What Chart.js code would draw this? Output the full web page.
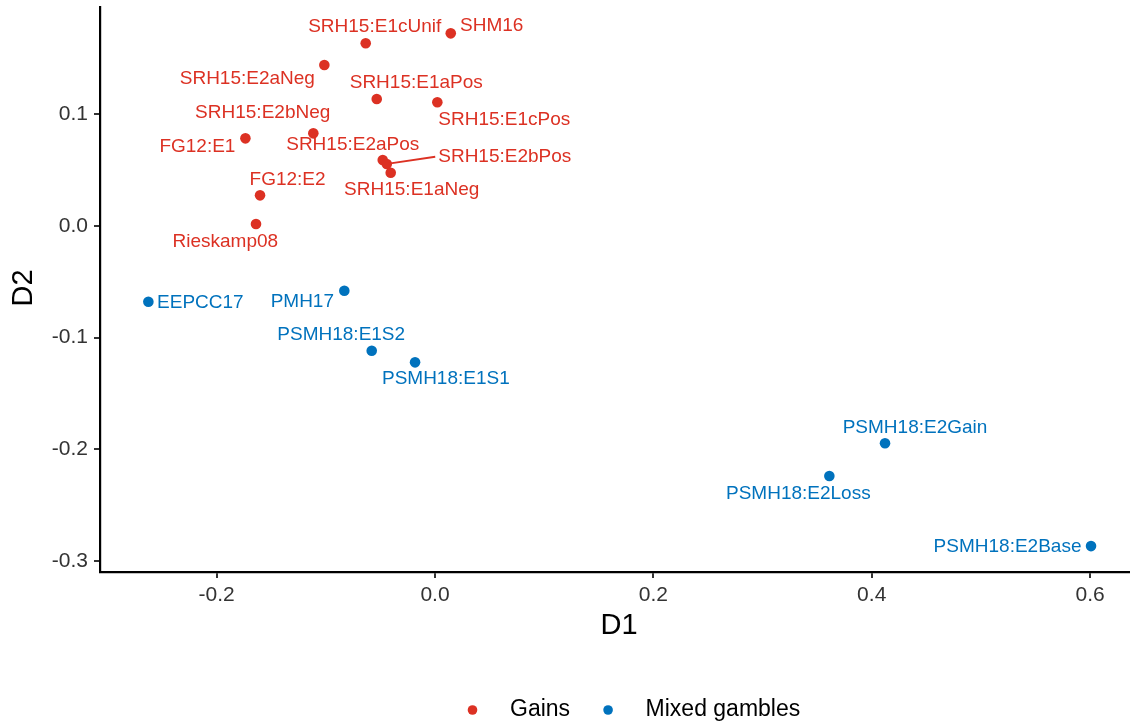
<!DOCTYPE html>
<html>
<head>
<meta charset="utf-8">
<script src="https://cdn.jsdelivr.net/npm/chart.js@4"></script>
<style>
  html, body { margin: 0; padding: 0; background: #fff; }
  #wrap { width: 1130px; height: 723px; }
</style>
</head>
<body>
<div id="wrap"><canvas id="c" width="1130" height="723"></canvas></div>
<script>
// Study coordinates on the two scaling dimensions (D1, D2)
const gainNames = ['SRH15:E1cUnif', 'SHM16', 'SRH15:E2aNeg', 'SRH15:E1aPos', 'SRH15:E1cPos',
  'SRH15:E2bNeg', 'FG12:E1', 'SRH15:E2aPos', 'SRH15:E2bPos', 'SRH15:E1aNeg', 'FG12:E2', 'Rieskamp08'];
const gainD1 = [-0.0635, 0.0144, -0.1014, -0.0534, 0.0021, -0.1115, -0.1737, -0.0479, -0.0442, -0.0406, -0.1603, -0.1640];
const gainD2 = [0.1634, 0.1723, 0.1440, 0.1135, 0.1106, 0.0828, 0.0783, 0.0589, 0.0553, 0.0475, 0.0273, 0.0016];

const mixedNames = ['EEPCC17', 'PMH17', 'PSMH18:E1S2', 'PSMH18:E1S1', 'PSMH18:E2Gain', 'PSMH18:E2Loss', 'PSMH18:E2Base'];
const mixedD1 = [-0.2626, -0.0831, -0.0580, -0.0183, 0.4122, 0.3612, 0.6009];
const mixedD2 = [-0.0680, -0.0581, -0.1118, -0.1222, -0.1947, -0.2240, -0.2867];

const seriesNames = ['Gains', 'Mixed gambles'];
const xTicks = [-0.2, 0.0, 0.2, 0.4, 0.6];
const yTicks = [-0.3, -0.2, -0.1, 0.0, 0.1];

// Label placement (pixel offsets from each point, repelled layout); third flag = draw leader line
const gainLabelOffsets = [[9, -17], [41, -8], [-77, 14], [39.5, -16.7], [67, 17], [-50.6, -20.6],
  [-48, 8.3], [-30, -15], [118, -7.3, true], [21, 17.3], [27.5, -15.3], [-30.7, 17.7]];
const mixedLabelOffsets = [[52, 0.6], [-42, 11], [-30.5, -15.7], [30.8, 16], [30, -16], [-31, 18], [-83.5, 0.7]];

const RED = '#DC3123';
const BLUE = '#0072BD';
const FONT = '"Liberation Sans", Arial, sans-serif';

const toPoints = (xs, ys) => xs.map((x, i) => ({ x: x, y: ys[i] }));

const pointLabels = {
  id: 'pointLabels',
  afterDatasetsDraw(chart) {
    const ctx = chart.ctx;
    const sets = [
      { names: gainNames, offs: gainLabelOffsets, color: RED, meta: chart.getDatasetMeta(0) },
      { names: mixedNames, offs: mixedLabelOffsets, color: BLUE, meta: chart.getDatasetMeta(1) }
    ];
    ctx.save();
    ctx.font = '19px ' + FONT;
    ctx.textAlign = 'center';
    ctx.textBaseline = 'middle';
    sets.forEach(s => {
      s.meta.data.forEach((pt, i) => {
        const o = s.offs[i];
        const lx = pt.x + o[0], ly = pt.y + o[1];
        ctx.fillStyle = s.color;
        if (o[2]) {
          const w = ctx.measureText(s.names[i]).width;
          ctx.strokeStyle = s.color;
          ctx.lineWidth = 1.8;
          ctx.beginPath();
          ctx.moveTo(pt.x + 2, pt.y - 0.5);
          ctx.lineTo(lx - w / 2 - 3, ly);
          ctx.stroke();
        }
        ctx.fillText(s.names[i], lx, ly);
      });
    });
    ctx.restore();
  }
};

const titlesAndLegend = {
  id: 'titlesAndLegend',
  afterDraw(chart) {
    const ctx = chart.ctx;
    ctx.save();
    ctx.fillStyle = '#000';
    ctx.textBaseline = 'middle';
    ctx.textAlign = 'center';
    ctx.font = '29px ' + FONT;
    ctx.fillText('D1', 619, 626);
    ctx.save();
    ctx.translate(23.5, 288);
    ctx.rotate(-Math.PI / 2);
    ctx.fillText('D2', 0, 0);
    ctx.restore();

    // legend row
    ctx.font = '23px ' + FONT;
    ctx.textAlign = 'left';
    const colors = [RED, BLUE];
    let x = 467.5;
    const y = 710;
    seriesNames.forEach((name, i) => {
      ctx.fillStyle = colors[i];
      ctx.beginPath();
      ctx.arc(x + 5, y, 4.8, 0, Math.PI * 2);
      ctx.fill();
      ctx.fillStyle = '#000';
      ctx.fillText(name, x + 42.5, y);
      x += 42.5 + ctx.measureText(name).width + 33;
    });
    ctx.restore();
  }
};

const fixedTicks = (vals) => function (scale) {
  scale.ticks = vals.map(v => ({ value: v }));
};

// keep the plotting area flush with the canvas edges: no extra room for overhanging tick labels
const noOverhang = (scale) => {
  scale.paddingTop = 0;
  scale.paddingBottom = 0;
  scale.paddingLeft = 0;
  scale.paddingRight = 0;
};

new Chart(document.getElementById('c'), {
  type: 'scatter',
  data: {
    datasets: [
      {
        label: seriesNames[0],
        data: toPoints(gainD1, gainD2),
        backgroundColor: RED,
        borderColor: RED,
        pointRadius: 5.3,
        pointHoverRadius: 5.3,
        borderWidth: 0
      },
      {
        label: seriesNames[1],
        data: toPoints(mixedD1, mixedD2),
        backgroundColor: BLUE,
        borderColor: BLUE,
        pointRadius: 5.3,
        pointHoverRadius: 5.3,
        borderWidth: 0
      }
    ]
  },
  options: {
    responsive: false,
    animation: false,
    events: [],
    layout: { autoPadding: false, padding: { top: 7, right: 0, bottom: 0, left: 0 } },
    plugins: {
      legend: { display: false },
      tooltip: { enabled: false }
    },
    scales: {
      x: {
        type: 'linear',
        min: -0.3069,
        max: 0.6366,
        afterBuildTicks: fixedTicks(xTicks),
        afterFit(scale) { scale.height = 151; noOverhang(scale); },
        border: { display: true, color: '#000', width: 2.2 },
        grid: { display: true, drawOnChartArea: false, drawTicks: true, tickLength: 6, color: '#333', lineWidth: 2 },
        ticks: {
          color: '#333',
          padding: 5,
          font: { family: FONT, size: 21 },
          callback: v => v.toFixed(1)
        }
      },
      y: {
        type: 'linear',
        min: -0.3099,
        max: 0.1959,
        afterBuildTicks: fixedTicks(yTicks),
        afterFit(scale) { scale.width = 100; noOverhang(scale); },
        border: { display: true, color: '#000', width: 2.2 },
        grid: { display: true, drawOnChartArea: false, drawTicks: true, tickLength: 6, color: '#333', lineWidth: 2 },
        ticks: {
          color: '#333',
          padding: 6,
          font: { family: FONT, size: 21 },
          callback: v => v.toFixed(1)
        }
      }
    }
  },
  plugins: [pointLabels, titlesAndLegend]
});
</script>
</body>
</html>
